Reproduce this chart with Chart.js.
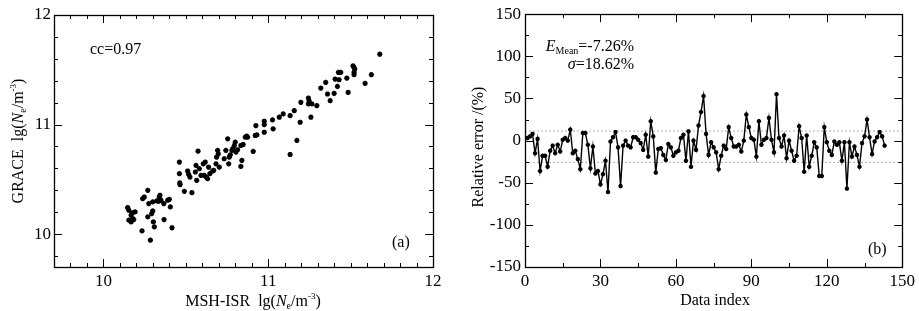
<!DOCTYPE html>
<html><head><meta charset="utf-8">
<script src="https://cdn.jsdelivr.net/npm/chart.js@4.4.1/dist/chart.umd.min.js"></script>
<style>
html,body{margin:0;padding:0;background:#fff;}
#wrap{position:relative;width:919px;height:311px;background:#fff;}
#c1{position:absolute;left:0;top:0;}
#c2{position:absolute;left:460px;top:0;}
</style></head><body>
<div id="wrap"><canvas id="c1" width="460" height="311"></canvas><canvas id="c2" width="459" height="311"></canvas></div>
<script>
// ---------- DATA ----------
const scatterX = [10.147,10.154,10.174,10.192,10.168,10.178,10.154,10.168,10.184,
10.234,10.238,10.248,10.269,10.275,10.269,10.285,10.293,10.299,10.299,10.303,10.309,10.323,10.335,10.339,10.343,10.349,10.366,10.368,10.39,10.4,10.406,10.416,
10.461,10.461,10.463,10.465,10.491,10.511,10.517,10.525,10.537,10.562,10.558,10.566,10.574,10.582,10.592,10.606,10.612,10.618,10.624,10.632,10.638,10.646,10.662,10.669,10.683,10.687,10.693,10.697,10.703,10.733,10.743,10.754,10.76,10.764,10.77,10.78,10.784,10.794,10.8,10.804,10.814,10.834,10.834,10.84,10.848,10.861,10.869,10.875,10.909,10.921,10.925,10.931,
10.976,10.976,10.976,11.026,11.03,11.067,11.091,11.133,11.133,11.158,11.174,11.194,11.198,11.244,11.248,11.244,11.259,11.265,11.295,11.319,11.349,11.36,11.376,11.4,11.406,11.42,11.426,11.43,11.44,11.477,11.485,11.515,11.521,11.525,11.521,11.521,11.588,11.626,11.677];
const scatterY = [10.242,10.218,10.194,10.203,10.173,10.142,10.127,10.112,10.133,
10.03,10.324,10.339,10.4,10.279,10.158,9.945,10.188,10.212,10.294,10.112,10.067,10.303,10.3,10.339,10.355,10.309,10.279,10.133,10.309,10.318,10.248,10.058,
10.658,10.552,10.467,10.452,10.391,10.576,10.545,10.521,10.379,10.627,10.567,10.491,10.758,10.597,10.536,10.642,10.536,10.658,10.521,10.506,10.612,10.552,10.576,10.582,10.642,10.703,10.764,10.733,10.612,10.688,10.764,10.87,10.642,10.703,10.724,10.764,10.779,10.809,10.839,10.749,10.77,10.809,10.618,10.673,10.818,10.885,10.894,10.885,10.755,10.9,10.991,10.906,
11.03,11.0,10.93,11.042,10.961,11.067,11.097,11.082,10.727,11.127,10.855,11.021,11.203,11.242,11.218,11.188,11.067,11.188,11.173,11.333,11.385,11.279,11.218,11.285,11.415,11.348,11.476,11.409,11.476,11.424,11.294,11.536,11.521,11.506,11.476,11.455,11.376,11.455,11.642];

const errIndex = [1,2,3,4,5,6,7,8,9,10,11,12,13,14,15,16,17,18,19,20,21,22,23,24,25,26,27,28,29,30,
31,32,33,34,35,36,37,38,39,40,41,42,43,44,45,46,47,48,49,50,51,52,53,54,55,56,57,58,59,60,
61,62,63,64,65,66,67,68,69,70,71,72,73,74,75,76,77,78,79,80,81,82,83,84,85,86,87,88,89,90,
91,92,93,94,95,96,97,98,99,100,101,102,103,104,105,106,107,108,109,110,111,112,113,114,115,116,117,118,119,120,
121,122,123,124,125,126,127,128,129,130,131,132,133,134,135,136,137,138,139,140,141,142,143];
const errValues = [3,5,8,-15,2,-36,-18,-18,-31,-12,-6,-15,-5,-13,1,3,0,13,-15,-12,-22,-34,9,9,-5,-33,-7,-39,-36,-52,
-40,-24,-61,-1,4,10,-8,-54,-6,0,-6,-8,4,4,1,-3,-11,7,-19,23,5,-38,-10,-9,-17,-23,-4,-8,-18,-14,
-12,3,7,-24,11,-31,0,-11,18,34,53,8,-17,-2,-8,-14,-34,-18,-6,-10,16,3,-7,-7,-5,-13,0,31,16,3,
1,-19,23,-5,1,3,27,1,-14,55,3,-7,6,-21,0,-12,-24,-18,17,3,-37,6,-31,-18,-2,-8,-42,-42,16,-2,
-12,-17,-1,-5,-2,-24,-2,-57,-2,-19,-7,-17,-31,-3,5,25,4,-16,-1,4,10,5,-6];
const errMean = -7.26;
const errSigma = 18.62;

const leftTicks = [10, 11, 12];
const rightXTicks = [0, 30, 60, 90, 120, 150];
const rightYTicks = [-150, -100, -50, 0, 50, 100, 150];

// ---------- PLUGINS ----------
const SERIF = "'Liberation Serif','DejaVu Serif',serif";
function frameTicks(opts){
  return {
    id:'frameTicks',
    afterDatasetsDraw(chart){
      const {ctx, chartArea:a, scales} = chart;
      const xs = scales.x, ys = scales.y;
      ctx.save();
      ctx.strokeStyle = '#000';
      ctx.lineWidth = 1;
      const ln = (x1,y1,x2,y2)=>{ctx.beginPath();ctx.moveTo(x1,y1);ctx.lineTo(x2,y2);ctx.stroke();};
      const doX = (step, len)=>{
        for(let v = Math.ceil(xs.min/step - 1e-9)*step; v <= xs.max + 1e-9; v += step){
          const p = Math.round(xs.getPixelForValue(v)) + 0.5;
          ln(p, a.bottom, p, a.bottom - len); ln(p, a.top, p, a.top + len);
        }
      };
      const doY = (step, len)=>{
        for(let v = Math.ceil(ys.min/step - 1e-9)*step; v <= ys.max + 1e-9; v += step){
          const p = Math.round(ys.getPixelForValue(v)) + 0.5;
          ln(a.left, p, a.left + len, p); ln(a.right, p, a.right - len, p);
        }
      };
      doX(opts.xMinor, 4); doX(opts.xMajor, 8);
      doY(opts.yMinor, 4); doY(opts.yMajor, 8);
      ctx.lineWidth = 1.3;
      ctx.strokeRect(Math.round(a.left)+0.5, Math.round(a.top)+0.5, Math.round(a.right-a.left), Math.round(a.bottom-a.top));
      ctx.restore();
    }
  };
}
function richText(items){
  return {
    id:'richText',
    afterDraw(chart){
      const ctx = chart.ctx;
      ctx.save();
      ctx.fillStyle = '#000';
      ctx.textBaseline = 'alphabetic';
      items.forEach(it=>{
        const base = it.size || 16;
        const fontOf = s => `${s.italic?'italic ':''}${s.size||base}px ${SERIF}`;
        let total = 0;
        it.segs.forEach(s=>{ctx.font = fontOf(s); total += ctx.measureText(s.t).width;});
        ctx.save();
        ctx.translate(it.x, it.y);
        if(it.rot) ctx.rotate(it.rot);
        let x = it.align==='center' ? -total/2 : it.align==='right' ? -total : 0;
        const y = base*0.35;
        it.segs.forEach(s=>{
          ctx.font = fontOf(s);
          ctx.fillText(s.t, x, y + (s.dy||0));
          x += ctx.measureText(s.t).width;
        });
        ctx.restore();
      });
      ctx.restore();
    }
  };
}
const tickFont = {family:SERIF, size:17};
const noGrid = {display:false, drawTicks:false, tickLength:0};
const neSegs = [{t:'lg('},{t:'N',italic:true},{t:'e',size:10,dy:3},{t:'/m'},{t:'-3',size:9,dy:-7},{t:')'}];

// ---------- LEFT: scatter ----------
new Chart(document.getElementById('c1'), {
  type:'scatter',
  data:{datasets:[{
    data: scatterX.map((x,i)=>({x, y:scatterY[i]})),
    pointStyle:'star', pointRadius:2.6, pointBorderWidth:1.6,
    borderColor:'#000', backgroundColor:'#000'
  }]},
  options:{
    responsive:false, animation:false, devicePixelRatio:1,
    layout:{padding:{left:0, right:27, top:15, bottom:0}},
    plugins:{legend:{display:false}, tooltip:{enabled:false}},
    scales:{
      x:{type:'linear', min:9.7, max:12,
        afterBuildTicks:s=>{s.ticks = leftTicks.map(v=>({value:v}));},
        afterFit:s=>{s.height = 44;},
        grid:noGrid, border:{display:false},
        ticks:{font:tickFont, color:'#000', padding:4, maxRotation:0, callback:v=>String(v)}},
      y:{type:'linear', min:9.7, max:12,
        afterBuildTicks:s=>{s.ticks = leftTicks.map(v=>({value:v}));},
        afterFit:s=>{s.width = 54;},
        grid:noGrid, border:{display:false},
        ticks:{font:tickFont, color:'#000', padding:3, callback:v=>String(v)}}
    }
  },
  plugins:[frameTicks({xMajor:1, xMinor:0.1, yMajor:1, yMinor:0.2}),
    richText([
      {x:90, y:48, segs:[{t:'cc=0.97'}]},
      {x:392, y:241, segs:[{t:'(a)'}]},
      {x:17, y:141, rot:-Math.PI/2, align:'center', segs:[{t:'GRACE  '}].concat(neSegs)},
      {x:253, y:300, align:'center', segs:[{t:'MSH-ISR  '}].concat(neSegs)}
    ])]
});

// ---------- RIGHT: relative error ----------
new Chart(document.getElementById('c2'), {
  type:'line',
  data:{datasets:[
    {data: errIndex.map((x,i)=>({x, y:errValues[i]})),
      borderColor:'#000', borderWidth:1.4, tension:0,
      pointStyle:'star', pointRadius:2.2, pointBorderWidth:1.4,
      pointBorderColor:'#000', pointBackgroundColor:'#000', order:1},
    {data:[{x:0,y:errMean+errSigma},{x:150,y:errMean+errSigma}],
      borderColor:'#b0b0b0', borderWidth:1, borderDash:[2,2], pointRadius:0, order:2},
    {data:[{x:0,y:errMean-errSigma},{x:150,y:errMean-errSigma}],
      borderColor:'#b0b0b0', borderWidth:1, borderDash:[2,2], pointRadius:0, order:2}
  ]},
  options:{
    responsive:false, animation:false, devicePixelRatio:1,
    layout:{padding:{left:0, right:15, top:14, bottom:0}},
    plugins:{legend:{display:false}, tooltip:{enabled:false}},
    scales:{
      x:{type:'linear', min:0, max:150,
        afterBuildTicks:s=>{s.ticks = rightXTicks.map(v=>({value:v}));},
        afterFit:s=>{s.height = 44;},
        grid:noGrid, border:{display:false},
        ticks:{font:tickFont, color:'#000', padding:4, maxRotation:0, callback:v=>String(v)}},
      y:{type:'linear', min:-150, max:150,
        afterBuildTicks:s=>{s.ticks = rightYTicks.map(v=>({value:v}));},
        afterFit:s=>{s.width = 65;},
        grid:noGrid, border:{display:false},
        ticks:{font:tickFont, color:'#000', padding:4, callback:v=>String(v)}}
    }
  },
  plugins:[frameTicks({xMajor:30, xMinor:15, yMajor:50, yMinor:25}),
    richText([
      {x:174, y:45, align:'right', segs:[{t:'E',italic:true},{t:'Mean',size:10,dy:3},{t:'=-7.26%'}]},
      {x:174, y:63, align:'right', segs:[{t:'σ',italic:true},{t:'=18.62%'}]},
      {x:408, y:248, segs:[{t:'(b)'}]},
      {x:17, y:147, rot:-Math.PI/2, align:'center', segs:[{t:'Relative error /(%)'}]},
      {x:255, y:299, align:'center', segs:[{t:'Data index'}]}
    ])]
});
</script>
</body></html>
